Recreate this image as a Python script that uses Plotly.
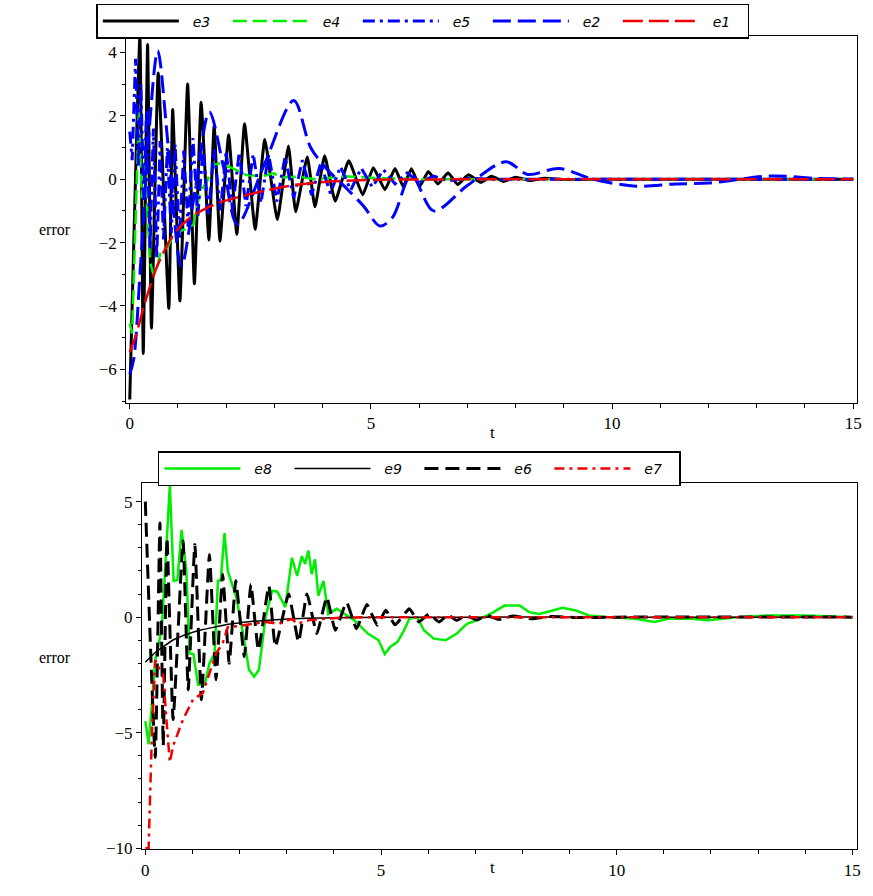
import plotly.graph_objects as go

# ---------------- top panel data ----------------
e3_t = [0, 0.21, 0.28, 0.37, 0.45, 0.59, 0.81, 0.89, 1.04, 1.2, 1.34, 1.48, 1.64, 1.75, 1.87, 2.05, 2.22, 2.38, 2.6, 2.8,
        3.06, 3.29, 3.44, 3.68, 3.84, 4.04, 4.26, 4.54, 4.83, 5.05, 5.29, 5.5, 5.67, 5.84, 6.01, 6.19, 6.39, 6.6, 6.8, 7.02,
        7.28, 7.5, 7.75, 8.0, 8.3, 8.6, 9.0, 10.0, 15.0]
e3_y = [-6.95, 4.5, -5.5, 4.25, -4.7, 3.35, -4.08, 2.2, -3.84, 3.0, -3.3, 2.43, -1.92, 1.7, -1.95, 1.4, -1.74, 1.75, -1.58, 1.25,
        -1.28, 1.05, -1.03, 0.7, -0.87, 0.74, -0.69, 0.58, -0.49, 0.36, -0.33, 0.34, -0.23, 0.33, -0.23, 0.24, -0.15, 0.2, -0.17, 0.14,
        -0.1, 0.09, -0.07, 0.06, -0.04, 0.03, -0.01, 0.0, 0.0]

e4_t = [0, 0.05, 0.19, 0.25, 0.31, 0.42, 0.49, 0.56, 0.63, 0.8, 0.98, 1.08, 1.2, 1.32, 1.46, 1.6, 1.73, 1.87, 2.14, 2.42,
        2.75, 2.99, 3.1, 3.5, 3.85, 4.47, 5.2, 6.05, 8.0, 15.0]
e4_y = [-4.55, -4.87, 2.22, -0.6, 0.5, -2.6, -3.0, -2.83, -2.36, -2.1, -1.53, -1.62, -1.55, -1.43, -0.39, -0.08, 0.45, 0.5, 0.34, 0.13,
        0.09, 0.19, 0.05, 0.08, 0.0, 0.09, 0.03, 0.0, 0.0, 0.0]

e5_t = [0, 0.05, 0.12, 0.18, 0.23, 0.29, 0.35, 0.42, 0.49, 0.56, 0.63, 0.7, 0.78, 0.86, 0.94, 1.03, 1.12, 1.21, 1.31, 1.41,
        1.52, 1.63, 1.75, 1.88, 2.0, 2.13, 2.27, 2.41, 2.56, 2.72, 2.88, 3.05, 3.22, 3.4, 3.58, 3.77, 3.96, 4.16, 4.37, 4.58,
        4.8, 5.03, 5.26, 5.5, 5.75, 6.0, 6.3, 6.6, 7.0, 7.5, 15.0]
e5_y = [1.5, 0.6, 3.8, 0.4, 3.0, -0.6, 2.2, -2.2, 1.6, -2.5, 1.2, -1.9, 1.0, -1.7, 1.1, -1.9, 0.9, -1.5, 1.3, -1.2,
        1.0, -1.1, 0.95, -1.0, 0.9, -0.95, 0.85, -0.85, 0.8, -0.75, 0.78, -0.7, 0.7, -0.6, 0.6, -0.5, 0.5, -0.45, 0.4, -0.35,
        0.35, -0.25, 0.3, -0.15, 0.2, -0.1, 0.1, -0.05, 0.03, 0.0, 0.0]

e2_t = [0, 0.08, 0.22, 0.4, 0.58, 0.8, 1.07, 1.35, 1.65, 1.95, 2.23, 2.8, 3.4, 3.75, 4.1, 4.5, 4.85, 5.19, 5.45, 5.84,
        6.3, 7.0, 7.8, 8.25, 8.9, 9.6, 10.5, 11.3, 12.0, 13.3, 14.3, 15.0]
e2_y = [-6.15, -5.7, -2.8, 1.5, 4.05, 1.0, -2.75, -0.4, 2.12, 0.35, -1.43, 0.5, 2.48, 1.0, 0.3, -0.3, -0.85, -1.48, -1.2, 0.13,
        -1.0, -0.2, 0.55, 0.15, 0.34, 0.0, -0.22, -0.15, -0.12, 0.1, 0.02, 0.0]

e1_t = [0, 0.12, 0.29, 0.56, 0.91, 1.25, 1.59, 1.94, 2.5, 3.0, 3.5, 4.1, 5.1, 6.0, 8.0, 10.0, 15.0]
e1_y = [-5.45, -4.97, -4.03, -2.78, -1.74, -1.22, -0.91, -0.7, -0.47, -0.3, -0.17, -0.08, -0.02, -0.01, 0.0, 0.0, 0.0]

# ---------------- bottom panel data ----------------
e8_t = [0, 0.07, 0.21, 0.35, 0.52, 0.6, 0.68, 0.77, 0.87, 0.94, 1.02, 1.12, 1.26, 1.36, 1.47, 1.54, 1.6, 1.68, 1.75, 1.93,
        2.06, 2.2, 2.31, 2.41, 2.55, 2.69, 2.8, 2.97, 3.11, 3.22, 3.32, 3.39, 3.46, 3.53, 3.6, 3.67, 3.78, 3.88, 4.06, 4.23,
        4.44, 4.72, 4.95, 5.08, 5.2, 5.35, 5.49, 5.6, 5.77, 5.91, 6.12, 6.37, 6.61, 6.82, 7.03, 7.24, 7.38, 7.62, 7.94, 8.15,
        8.36, 8.64, 8.85, 9.13, 9.41, 9.83, 10.39, 10.8, 11.1, 11.6, 11.93, 12.6, 13.2, 14.0, 15.0]
e8_y = [-4.5, -5.5, -1.86, -0.5, 5.7, 1.57, 1.6, 3.78, 2.0, -1.57, -1.6, -2.93, -2.93, -2.0, -1.57, 1.57, 1.6, 3.64, 2.0, 0.86,
        -0.57, -2.28, -2.57, -2.28, 0.0, 1.14, 1.1, 0.43, 2.57, 1.78, 2.64, 2.3, 2.88, 1.86, 2.5, 0.93, 1.57, 0.14, 0.36, 0.14,
        -0.14, -0.71, -1.0, -1.6, -1.28, -1.07, -0.57, -0.07, 0.0, -0.57, -0.93, -1.0, -0.71, -0.29, -0.14, 0.07, 0.21, 0.5, 0.5, 0.21,
        0.14, 0.29, 0.4, 0.29, 0.07, 0.0, -0.07, -0.21, -0.07, -0.07, -0.14, 0.0, 0.07, 0.07, 0.0]

e9_t = [0, 0.2, 0.4, 0.6, 0.9, 1.2, 1.5, 1.8, 2.2, 2.7, 3.3, 4.0, 5.0, 7.0, 10.0, 15.0]
e9_y = [-1.95, -1.55, -1.25, -0.98, -0.73, -0.55, -0.42, -0.3, -0.2, -0.12, -0.06, -0.03, -0.01, 0.0, 0.0, 0.0]

e6_t = [0, 0.21, 0.31, 0.38, 0.46, 0.59, 0.8, 0.91, 1.05, 1.19, 1.36, 1.5, 1.64, 1.78, 1.92, 2.1, 2.24, 2.4, 2.62, 2.76,
        3.04, 3.25, 3.43, 3.64, 3.85, 4.03, 4.27, 4.48, 4.7, 4.92, 5.1, 5.3, 5.6, 5.8, 6.02, 6.23, 6.42, 6.6, 6.8, 7.03,
        7.25, 7.5, 7.8, 8.2, 8.6, 9.2, 10.0, 15.0]
e6_y = [5.0, -6.07, 4.07, -5.57, 3.43, -4.43, 3.29, -3.14, 3.14, -3.57, 2.71, -2.71, 1.86, -2.0, 1.57, -1.71, 1.43, -1.43, 1.36, -1.28,
        1.0, -1.07, 1.0, -0.71, 0.86, -0.57, 0.64, -0.5, 0.55, -0.35, 0.3, -0.33, 0.36, -0.21, 0.14, -0.21, 0.1, -0.14, 0.07, -0.12,
        0.06, -0.1, 0.05, -0.07, 0.03, -0.02, 0.0, 0.0]

e7_t = [0, 0.07, 0.14, 0.21, 0.31, 0.38, 0.45, 0.52, 0.59, 0.8, 1.01, 1.22, 1.36, 1.5, 1.64, 1.75, 2.0, 2.27, 2.55, 2.83,
        3.11, 3.22, 3.5, 3.81, 4.2, 5.0, 7.0, 10.0, 15.0]
e7_y = [-10.0, -10.0, -5.0, -1.86, -2.28, -2.5, -4.5, -6.28, -5.57, -4.43, -3.57, -3.28, -2.43, -1.57, -1.14, -0.43, -0.38, -0.29, -0.21, -0.29,
        -0.07, -0.29, -0.12, -0.07, -0.02, 0.0, 0.0, 0.0, 0.0]

x_ticks = [0, 5, 10, 15]
top_y_ticks = [-6, -4, -2, 0, 2, 4]
bot_y_ticks = [-10, -5, 0, 5]

W, H = 873, 896
NB = "\u00a0\u00a0"

fig = go.Figure()


def add(t, y, name, color, width, dash, shape, ax, legend, smoothing=1.0):
    line = dict(color=color, width=width, dash=dash, shape=shape)
    if shape == "spline":
        line["smoothing"] = smoothing
    fig.add_trace(go.Scatter(x=t, y=y, mode="lines", name=NB + "<i>" + name + "</i>", line=line,
                             xaxis="x" + ax, yaxis="y" + ax, legend=legend, hoverinfo="skip"))


# top panel (draw order = legend order)
add(e3_t, e3_y, "e3", "black", 3, "solid", "spline", "", "legend", 0.4)
add(e4_t, e4_y, "e4", "#00ee00", 2.5, "14px,6px", "linear", "", "legend")
add(e5_t, e5_y, "e5", "#0000ff", 3, "12px,5px,3px,5px", "linear", "", "legend")
add(e2_t, e2_y, "e2", "#0000ff", 3, "18px,7px", "spline", "", "legend", 0.9)
add(e1_t, e1_y, "e1", "#ee0000", 2.5, "20px,6px", "spline", "", "legend", 0.8)

# bottom panel
add(e8_t, e8_y, "e8", "#00ee00", 2.5, "solid", "linear", "2", "legend2")
add(e9_t, e9_y, "e9", "black", 1.5, "solid", "spline", "2", "legend2", 0.8)
add(e6_t, e6_y, "e6", "black", 3, "14px,7px", "spline", "2", "legend2", 0.4)
add(e7_t, e7_y, "e7", "#ee0000", 2.5, "10px,5px,3px,5px", "linear", "2", "legend2")

tickfont = dict(family="Liberation Serif", size=17, color="black")
axis_common = dict(showline=True, mirror=True, linecolor="black", linewidth=1, showgrid=False, zeroline=False,
                   ticks="outside", ticklen=5, tickcolor="black", tickfont=tickfont)

legend_common = dict(xanchor="left", yanchor="top", orientation="h",
                     bordercolor="black", borderwidth=1.5, bgcolor="white", itemwidth=76, entrywidth=39,
                     font=dict(family="DejaVu Sans", size=14, color="black"), traceorder="normal")

fig.update_layout(
    width=W, height=H, margin=dict(l=0, r=0, t=0, b=0),
    paper_bgcolor="white", plot_bgcolor="white",
    xaxis=dict(domain=[126 / W, 862 / W], range=[-0.075, 15.08], anchor="y", tickvals=x_ticks,
               minor=dict(dtick=1, ticks="outside", ticklen=4, tickcolor="black"), **axis_common),
    yaxis=dict(domain=[1 - 407 / H, 1 - 36 / H], range=[-7.06, 4.53], anchor="x", tickvals=top_y_ticks,
               minor=dict(dtick=1, ticks="outside", ticklen=3, tickcolor="black"), **axis_common),
    xaxis2=dict(domain=[142 / W, 862 / W], range=[-0.07, 15.1], anchor="y2", tickvals=x_ticks,
                minor=dict(dtick=1, ticks="outside", ticklen=4, tickcolor="black"), **axis_common),
    yaxis2=dict(domain=[1 - 858 / H, 1 - 488 / H], range=[-10.05, 5.8], anchor="x2", tickvals=bot_y_ticks,
                minor=dict(dtick=1, ticks="outside", ticklen=3, tickcolor="black"), **axis_common),
    legend=dict(x=96 / W, y=1 - 4 / H, **legend_common),
    legend2=dict(x=158 / W, y=1 - 456 / H, **legend_common),
    annotations=[
        dict(text="error", x=36 / W, y=1 - 221 / H, xref="paper", yref="paper", showarrow=False,
             font=dict(family="Liberation Serif", size=16, color="black")),
        dict(text="t", x=495 / W, y=1 - 437 / H, xref="paper", yref="paper", showarrow=False,
             font=dict(family="Liberation Serif", size=17, color="black")),
        dict(text="error", x=36 / W, y=1 - 675 / H, xref="paper", yref="paper", showarrow=False,
             font=dict(family="Liberation Serif", size=16, color="black")),
        dict(text="t", x=495 / W, y=1 - 888 / H, xref="paper", yref="paper", showarrow=False,
             font=dict(family="Liberation Serif", size=17, color="black")),
    ],
)

fig.write_html("out.html", config={"displayModeBar": False},
               post_script="document.body.style.margin='0px';document.body.style.overflow='hidden';")
